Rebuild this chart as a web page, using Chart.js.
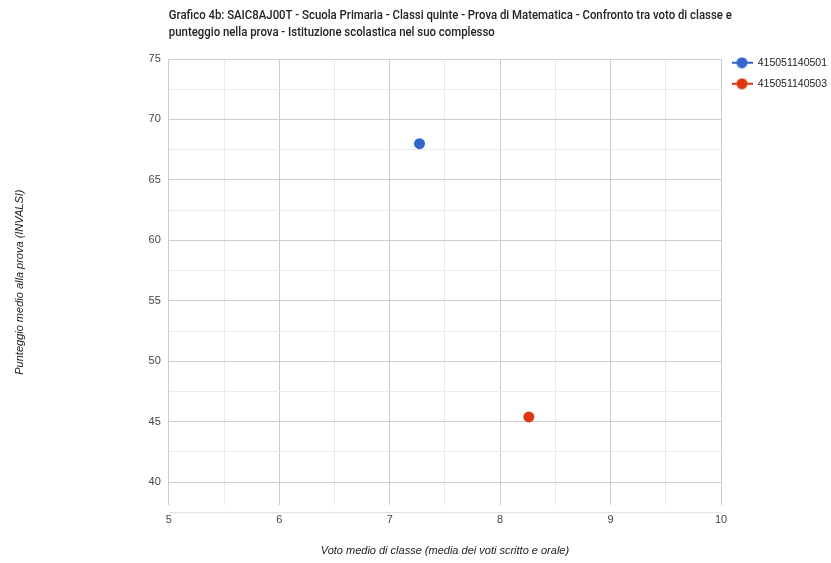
<!DOCTYPE html>
<html lang="it">
<head>
<meta charset="UTF-8">
<title>Grafico 4b - Confronto tra voto di classe e punteggio</title>
<script src="https://cdn.jsdelivr.net/npm/chart.js"></script>
<style>
  body { margin: 0; background: #fff; }
</style>
</head>
<body>
<canvas id="grafico" width="831" height="563"></canvas>
<script>
// classi (voci della legenda)
const classi = ['415051140501', '415051140503'];
// voto medio di classe (asse x)
const votiClasse = [7.27, 8.26];
// punteggio medio alla prova (asse y)
const punteggi = [68.0, 45.4];
const colori = ['#3366cc', '#dc3912'];

// tacche degli assi (principali + secondarie)
const tickX = [5, 5.5, 6, 6.5, 7, 7.5, 8, 8.5, 9, 9.5, 10];
const tickY = [40, 42.5, 45, 47.5, 50, 52.5, 55, 57.5, 60, 62.5, 65, 67.5, 70, 72.5, 75];

const titolo = [
  'Grafico 4b: SAIC8AJ00T - Scuola Primaria - Classi quinte - Prova di Matematica - Confronto tra voto di classe e',
  'punteggio nella prova - Istituzione scolastica nel suo complesso'
];
const titoloX = 'Voto medio di classe (media dei voti scritto e orale)';
const titoloY = 'Punteggio medio alla prova (INVALSI)';

// icona legenda: linea con pallino
function iconaLegenda(colore) {
  const c = document.createElement('canvas');
  c.width = 21; c.height = 12;
  const g = c.getContext('2d');
  g.strokeStyle = colore;
  g.lineWidth = 2;
  g.beginPath(); g.moveTo(0, 6); g.lineTo(21, 6); g.stroke();
  g.fillStyle = colore;
  g.beginPath(); g.arc(10.5, 6, 5.5, 0, Math.PI * 2); g.fill();
  return c;
}

// titolo allineato all'area del grafico + linea di base asse x
const extraPlugin = {
  id: 'extra',
  afterDraw(chart) {
    const ctx = chart.ctx;
    const area = chart.chartArea;
    ctx.save();
    ctx.strokeStyle = '#dddddd';
    ctx.lineWidth = 1;
    ctx.beginPath();
    ctx.moveTo(area.left, area.bottom + 7.5);
    ctx.lineTo(area.right, area.bottom + 7.5);
    ctx.stroke();

    ctx.font = '500 12px Roboto, "Liberation Sans", sans-serif';
    ctx.fillStyle = '#222222';
    ctx.textBaseline = 'middle';
    const k = 563 / ctx.measureText(titolo[0]).width;
    ctx.translate(area.left, 0);
    ctx.scale(k, 1);
    ctx.fillText(titolo[0], 0, 16);
    ctx.fillText(titolo[1], 0, 33);
    ctx.restore();
  }
};

const ctx = document.getElementById('grafico').getContext('2d');
const grafico = new Chart(ctx, {
  type: 'scatter',
  data: {
    datasets: classi.map((nome, i) => ({
      label: nome,
      data: [{ x: votiClasse[i], y: punteggi[i] }],
      backgroundColor: colori[i],
      borderColor: colori[i],
      pointRadius: 5.5,
      borderWidth: 0
    }))
  },
  options: {
    responsive: false,
    animation: false,
    layout: { padding: { top: 47, left: 0, right: 0, bottom: 0 } },
    plugins: {
      tooltip: { enabled: false },
      subtitle: { display: true, text: '', fullSize: false, padding: 0, font: { size: 12, lineHeight: 1 } },
      legend: {
        position: 'right',
        align: 'start',
        maxWidth: 110,
        labels: {
          usePointStyle: true,
          pointStyleWidth: 21,
          padding: 10.5,
          color: '#222222',
          font: { family: '"Liberation Sans", Arial, sans-serif', size: 10.5 },
          generateLabels(chart) {
            const voci = Chart.defaults.plugins.legend.labels.generateLabels(chart);
            voci.forEach((v, i) => { v.pointStyle = iconaLegenda(colori[i]); });
            return voci;
          }
        }
      }
    },
    scales: {
      x: {
        type: 'linear',
        min: 5,
        max: 10,
        afterBuildTicks: ax => { ax.ticks = tickX.map(v => ({ value: v })); },
        ticks: {
          autoSkip: false,
          maxRotation: 0,
          padding: 8,
          color: '#444444',
          font: { family: '"Liberation Sans", Arial, sans-serif', size: 11 },
          callback: v => Number.isInteger(v) ? String(v) : ''
        },
        grid: {
          drawTicks: false,
          color: c => c.tick && Number.isInteger(c.tick.value) ? '#cccccc' : '#ebebeb'
        },
        border: { display: false },
        title: {
          display: true,
          text: titoloX,
          color: '#222222',
          font: { family: '"Liberation Sans", Arial, sans-serif', size: 11, style: 'italic' },
          padding: { top: 10, bottom: 5.4 }
        }
      },
      y: {
        type: 'linear',
        min: 38.1,
        max: 75,
        afterBuildTicks: ax => { ax.ticks = tickY.map(v => ({ value: v })); },
        ticks: {
          autoSkip: false,
          padding: 8,
          color: '#444444',
          font: { family: '"Liberation Sans", Arial, sans-serif', size: 11 },
          callback: v => v % 5 === 0 ? String(v) : ''
        },
        grid: {
          drawTicks: false,
          color: c => c.tick && c.tick.value % 5 === 0 ? '#cccccc' : '#ebebeb'
        },
        border: { display: false },
        title: {
          display: true,
          text: titoloY,
          color: '#222222',
          font: { family: '"Liberation Sans", Arial, sans-serif', size: 11, style: 'italic' },
          padding: { top: 13.4, bottom: 114 }
        }
      }
    }
  },
  plugins: [extraPlugin]
});
</script>
</body>
</html>
